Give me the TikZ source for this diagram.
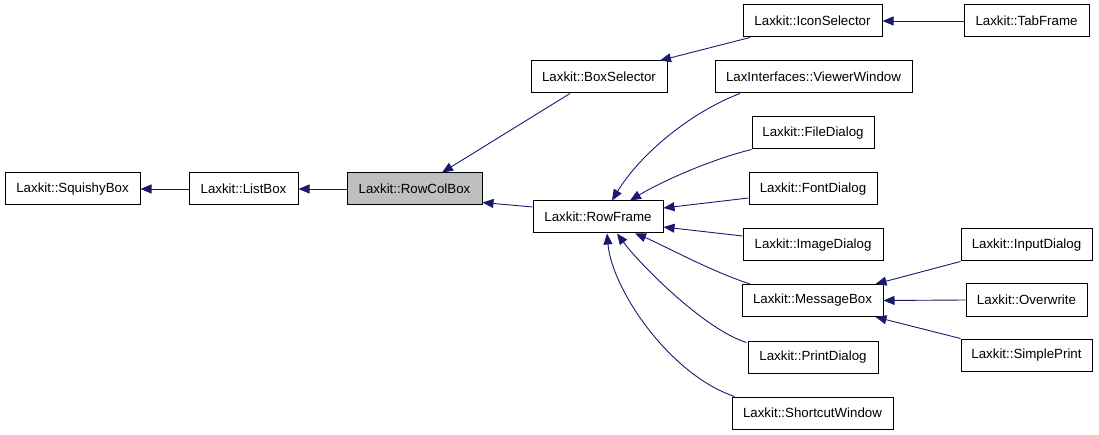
\documentclass[tikz,border=0pt]{standalone}
\usepackage{fontspec}
\setmainfont{Liberation Sans}
\usetikzlibrary{arrows.meta,calc}
\definecolor{edgeblue}{HTML}{191970}
\definecolor{selgrey}{HTML}{BFBFBF}
\begin{document}
\begin{tikzpicture}[x=1pt,y=-1pt,
  cls/.style={draw=black, line width=1pt, fill=white, minimum height=32pt, inner sep=0pt, font=\fontsize{13.3}{16}\selectfont},
  edge/.style={draw=edgeblue, line width=0.9pt, -{Triangle[length=11pt,width=9pt]}}]
\useasboundingbox (0,0) rectangle (1099,435);
\node[cls, minimum width=135pt] (SquishyBox) at (72.5,189) {Laxkit::SquishyBox};
\node[cls, minimum width=109pt] (ListBox) at (243.5,189) {Laxkit::ListBox};
\node[cls, minimum width=135pt, fill=selgrey] (RowColBox) at (414.5,189) {Laxkit::RowColBox};
\node[cls, minimum width=136pt] (BoxSelector) at (599,77) {Laxkit::BoxSelector};
\node[cls, minimum width=130pt] (RowFrame) at (598,217) {Laxkit::RowFrame};
\node[cls, minimum width=139pt] (IconSelector) at (812.5,21) {Laxkit::IconSelector};
\node[cls, minimum width=125pt] (TabFrame) at (1026.5,21) {Laxkit::TabFrame};
\node[cls, minimum width=197pt] (ViewerWindow) at (813.5,77) {LaxInterfaces::ViewerWindow};
\node[cls, minimum width=122pt] (FileDialog) at (813,133) {Laxkit::FileDialog};
\node[cls, minimum width=128pt] (FontDialog) at (813,189) {Laxkit::FontDialog};
\node[cls, minimum width=140pt] (ImageDialog) at (813,245) {Laxkit::ImageDialog};
\node[cls, minimum width=141pt] (MessageBox) at (812.5,300.5) {Laxkit::MessageBox};
\node[cls, minimum width=130pt] (PrintDialog) at (813,357) {Laxkit::PrintDialog};
\node[cls, minimum width=161pt] (ShortcutWindow) at (812.5,413) {Laxkit::ShortcutWindow};
\node[cls, minimum width=131pt] (InputDialog) at (1026.5,245) {Laxkit::InputDialog};
\node[cls, minimum width=121pt] (Overwrite) at (1026.5,300) {Laxkit::Overwrite};
\node[cls, minimum width=131pt] (SimplePrint) at (1026.5,355) {Laxkit::SimplePrint};

\draw[edge] (ListBox.west) -- (SquishyBox.east);
\draw[edge] (RowColBox.west) -- (ListBox.east);
\draw[edge] ($(BoxSelector.south)+(-29,0)$) -- ($(RowColBox.north)+(27.5,0)$);
\draw[edge] ($(RowFrame.west)+(0,-10)$) -- ($(RowColBox.south east)+(0,-3)$);
\draw[edge] ($(IconSelector.south)+(-62.5,0)$) -- ($(BoxSelector.north)+(61,0)$);
\draw[edge] (TabFrame.west) -- (IconSelector.east);
\draw[edge] ($(ViewerWindow.south)+(-73.5,0)$) .. controls +(-50,19) and +(28,-46) .. ($(RowFrame.north)+(14,0)$);
\draw[edge] (FileDialog.south west) .. controls +(-37,9) and +(35,-21) .. ($(RowFrame.north)+(32,0)$);
\draw[edge] ($(FontDialog.west)+(0,9)$) -- ($(RowFrame.east)+(0,-9)$);
\draw[edge] ($(ImageDialog.west)+(0,-9)$) -- ($(RowFrame.east)+(0,10)$);
\draw[edge] ($(MessageBox.north)+(-62.5,0)$) .. controls +(-40,-13) and +(25,10) .. ($(RowFrame.south)+(37,0)$);
\draw[edge] ($(PrintDialog.north west)+(-1,2)$) .. controls +(-42,-13) and +(23,31) .. ($(RowFrame.south)+(19,0)$);
\draw[edge] ($(ShortcutWindow.north west)+(3,0)$) .. controls +(-65,-22) and +(5,56) .. ($(RowFrame.south)+(9,0)$);
\draw[edge] (InputDialog.south west) -- ($(MessageBox.north east)+(-8,0)$);
\draw[edge] (Overwrite.west) -- (MessageBox.east);
\draw[edge] (SimplePrint.north west) -- ($(MessageBox.south east)+(-8,0)$);
\end{tikzpicture}
\end{document}
